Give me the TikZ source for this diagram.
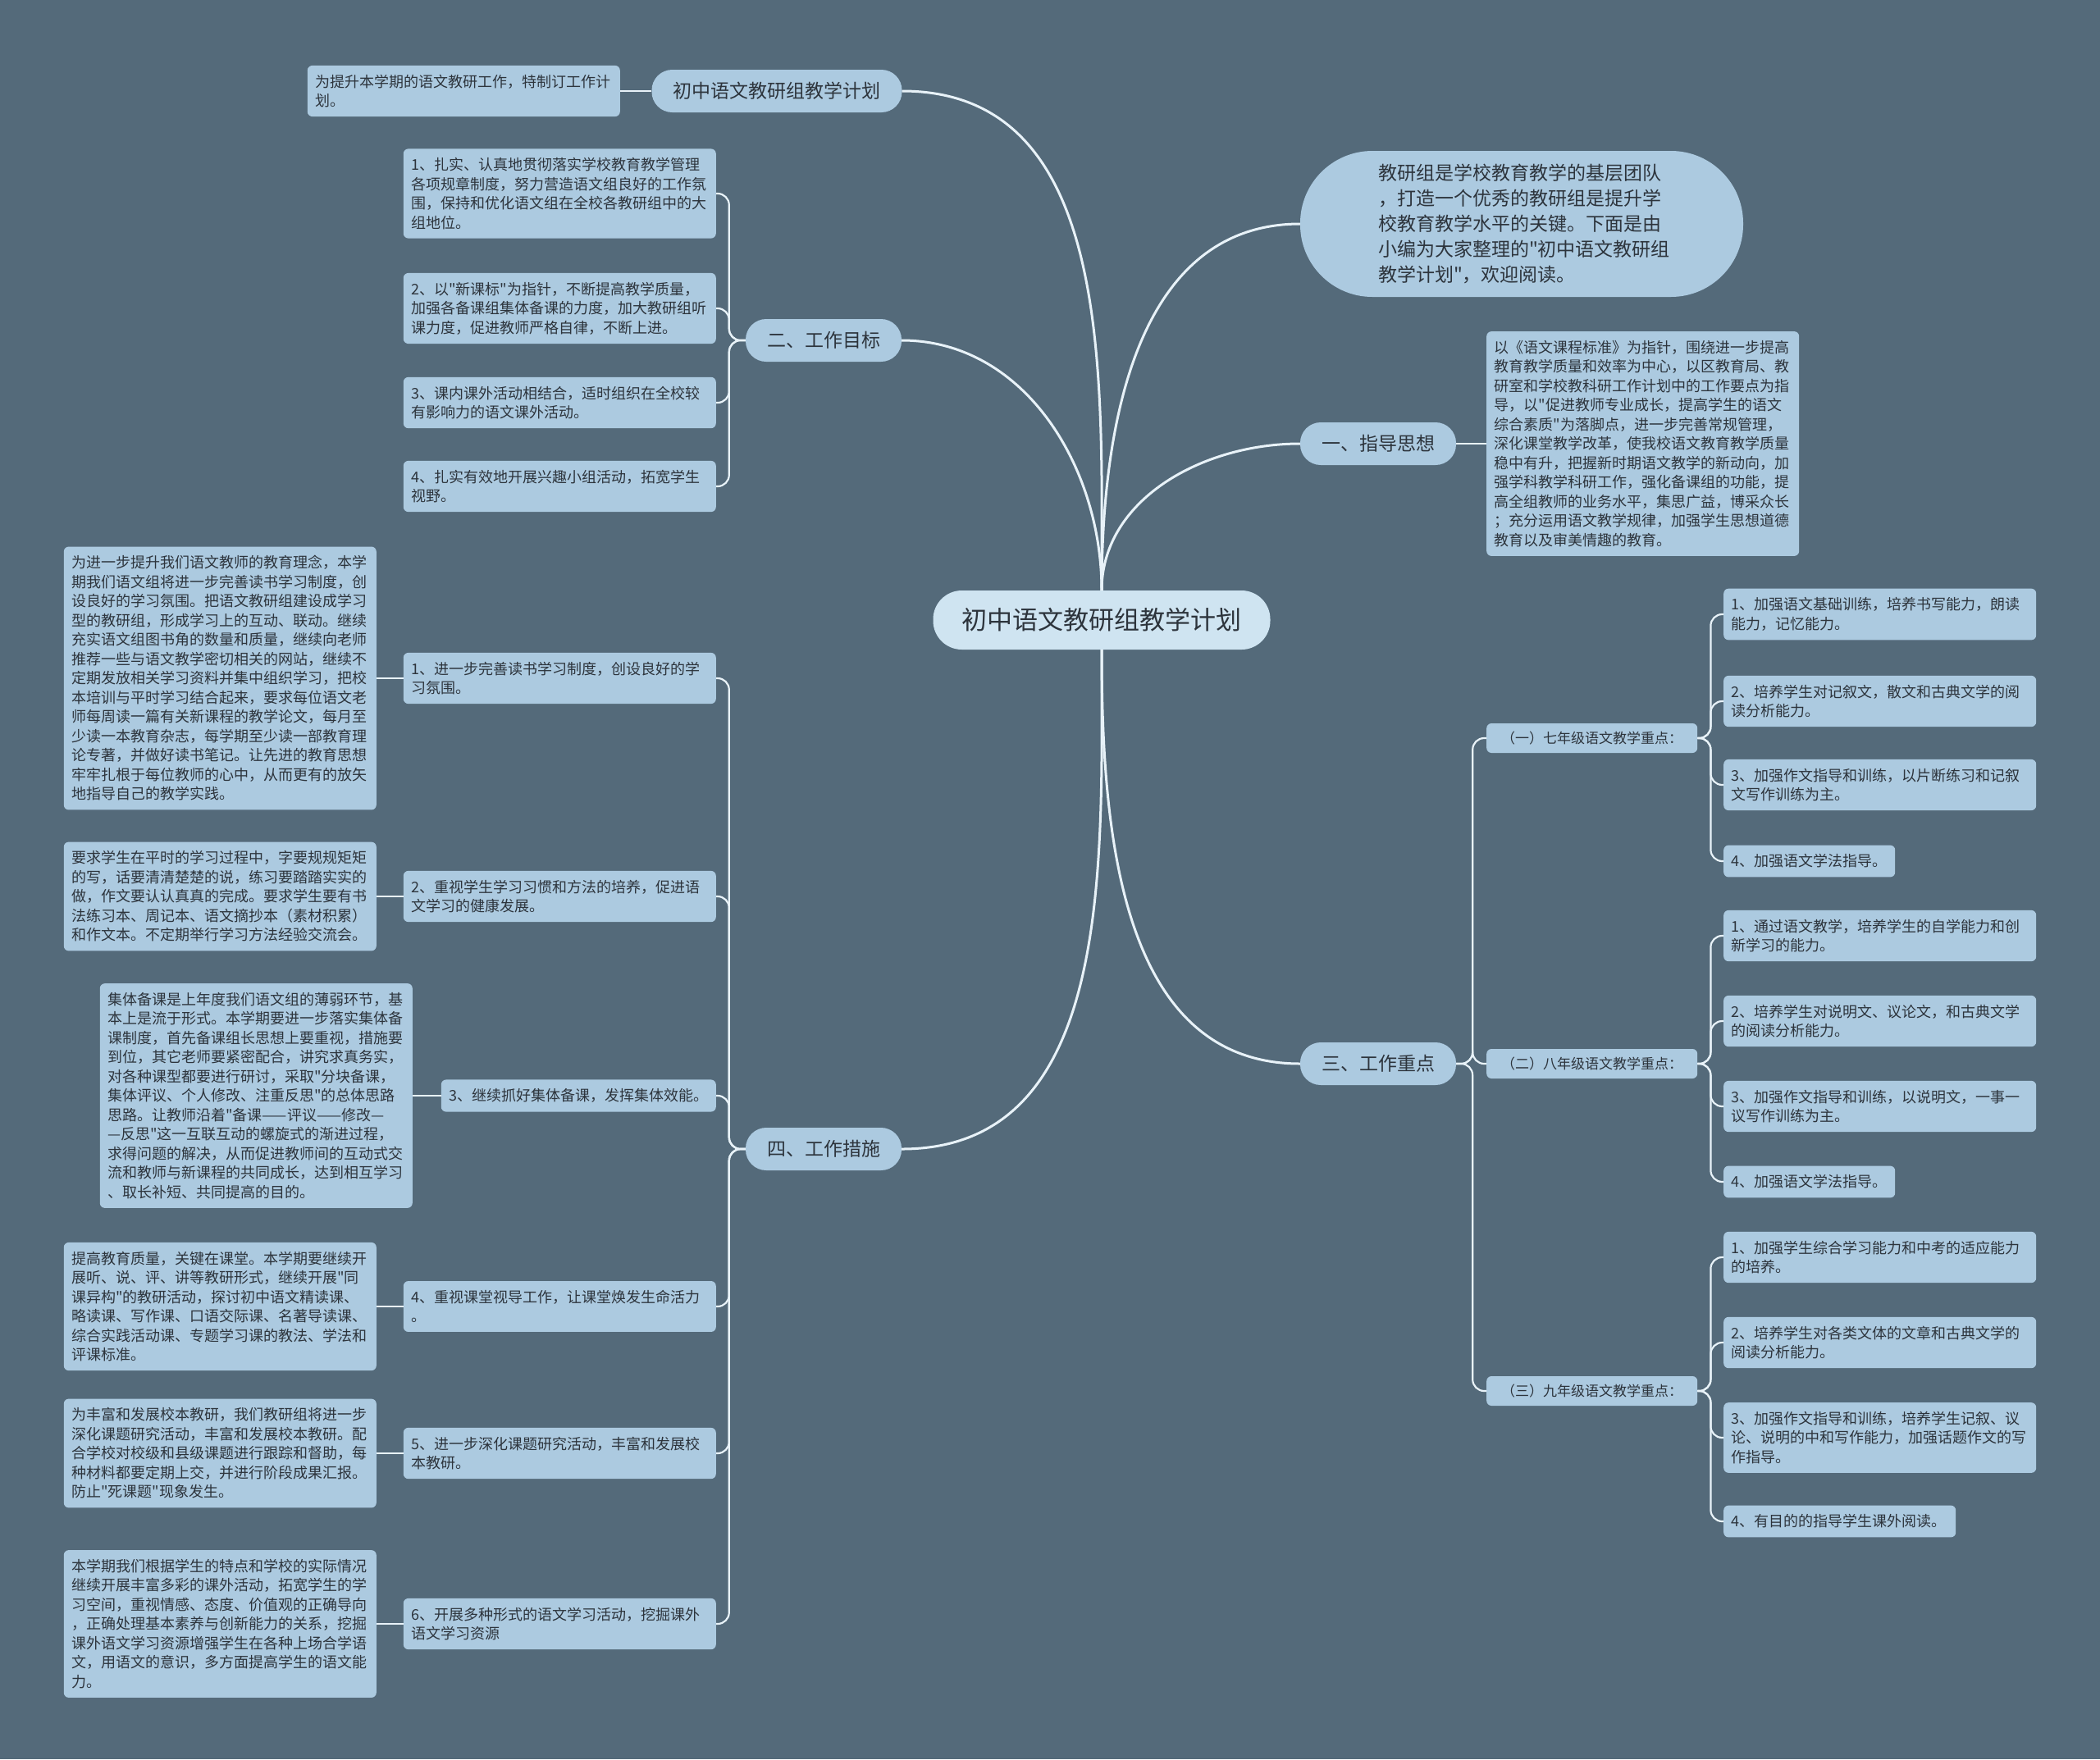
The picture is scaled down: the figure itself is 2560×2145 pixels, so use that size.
\documentclass[tikz,border=0pt]{standalone}
\usepackage{fontspec}
\setmainfont{Noto Sans CJK SC}[Ligatures=TeXOff]
\definecolor{bg}{RGB}{84,106,122}
\definecolor{nodefill}{RGB}{172,202,224}
\definecolor{cfill}{RGB}{207,228,241}
\definecolor{txt}{RGB}{45,52,60}
\definecolor{linec}{RGB}{232,242,248}
\begin{document}
\begin{tikzpicture}[x=1pt,y=-1pt,
 lfbox/.style={fill=nodefill, rounded corners=6pt, text=txt, font=\fontsize{18}{23.5}\selectfont, align=left, inner xsep=9.5pt, inner ysep=11pt, text width=362pt},
 lfw/.style={lfbox, text width=#1},
 subbox/.style={fill=nodefill, rounded corners=6pt, text=txt, font=\fontsize{17}{20}\selectfont, inner xsep=18pt, inner ysep=0pt, minimum height=36pt},
 lone/.style={fill=nodefill, rounded corners=25pt, text=txt, font=\fontsize{23}{28}\selectfont, inner xsep=26pt, inner ysep=0pt, minimum height=52pt},
 rootnode/.style={fill=cfill, rounded corners=35pt, text=txt, font=\fontsize{31}{36}\selectfont, inner xsep=35pt, inner ysep=0pt, minimum height=72pt},
 mainc/.style={draw=linec, line width=3pt},
 spine/.style={draw=linec, line width=2.2pt, rounded corners=14pt},
 straight/.style={draw=linec, line width=2.5pt}
]
\useasboundingbox (0,0) rectangle (2560,2145);
\fill[bg] (0,0) rectangle (2560,2145);

% root
\node[rootnode] (c) at (1343,756) {初中语文教研组教学计划};

% top-left branch
\node[lone] (t1) at (947,111) {初中语文教研组教学计划};
\node[lfbox, anchor=east] (t1l) at (756,111) {为提升本学期的语文教研工作，特制订工作计\\划。};

% intro bubble
\node[fill=nodefill, rounded corners=88pt, text=txt, font=\fontsize{23}{31}\selectfont, align=left, text width=350pt, inner xsep=95pt, inner ysep=15pt, minimum height=178pt] (intro) at (1855,273) {教研组是学校教育教学的基层团队\\，打造一个优秀的教研组是提升学\\校教育教学水平的关键。下面是由\\小编为大家整理的"初中语文教研组\\教学计划"，欢迎阅读。};

% 一
\node[lone] (b1) at (1680,541) {一、指导思想};
\node[lfbox, anchor=west] (b1l) at (1812,541) {以《语文课程标准》为指针，围绕进一步提高\\教育教学质量和效率为中心，以区教育局、教\\研室和学校教科研工作计划中的工作要点为指\\导，以"促进教师专业成长，提高学生的语文\\综合素质"为落脚点，进一步完善常规管理，\\深化课堂教学改革，使我校语文教育教学质量\\稳中有升，把握新时期语文教学的新动向，加\\强学科教学科研工作，强化备课组的功能，提\\高全组教师的业务水平，集思广益，博采众长\\；充分运用语文教学规律，加强学生思想道德\\教育以及审美情趣的教育。};

% 二
\node[lone] (b2) at (1004,415) {二、工作目标};
\node[lfbox, anchor=east] (b2a) at (873,236) {1、扎实、认真地贯彻落实学校教育教学管理\\各项规章制度，努力营造语文组良好的工作氛\\围，保持和优化语文组在全校各教研组中的大\\组地位。};
\node[lfbox, anchor=east] (b2b) at (873,376) {2、以"新课标"为指针，不断提高教学质量，\\加强各备课组集体备课的力度，加大教研组听\\课力度，促进教师严格自律，不断上进。};
\node[lfbox, anchor=east] (b2c) at (873,491) {3、课内课外活动相结合，适时组织在全校较\\有影响力的语文课外活动。};
\node[lfbox, anchor=east] (b2d) at (873,593) {4、扎实有效地开展兴趣小组活动，拓宽学生\\视野。};

% 三
\node[lone] (b3) at (1680,1297) {三、工作重点};
\node[subbox, anchor=west] (s1) at (1812,900) {（一）七年级语文教学重点：};
\node[subbox, anchor=west] (s2) at (1812,1297) {（二）八年级语文教学重点：};
\node[subbox, anchor=west] (s3) at (1812,1696) {（三）九年级语文教学重点：};

\node[lfbox, anchor=west] (s1a) at (2101,749) {1、加强语文基础训练，培养书写能力，朗读\\能力，记忆能力。};
\node[lfbox, anchor=west] (s1b) at (2101,855) {2、培养学生对记叙文，散文和古典文学的阅\\读分析能力。};
\node[lfbox, anchor=west] (s1c) at (2101,957) {3、加强作文指导和训练，以片断练习和记叙\\文写作训练为主。};
\node[lfw=190pt, anchor=west] (s1d) at (2101,1050) {4、加强语文学法指导。};

\node[lfbox, anchor=west] (s2a) at (2101,1141) {1、通过语文教学，培养学生的自学能力和创\\新学习的能力。};
\node[lfbox, anchor=west] (s2b) at (2101,1245) {2、培养学生对说明文、议论文，和古典文学\\的阅读分析能力。};
\node[lfbox, anchor=west] (s2c) at (2101,1349) {3、加强作文指导和训练，以说明文，一事一\\议写作训练为主。};
\node[lfw=190pt, anchor=west] (s2d) at (2101,1441) {4、加强语文学法指导。};

\node[lfbox, anchor=west] (s3a) at (2101,1533) {1、加强学生综合学习能力和中考的适应能力\\的培养。};
\node[lfbox, anchor=west] (s3b) at (2101,1637) {2、培养学生对各类文体的文章和古典文学的\\阅读分析能力。};
\node[lfbox, anchor=west] (s3c) at (2101,1753) {3、加强作文指导和训练，培养学生记叙、议\\论、说明的中和写作能力，加强话题作文的写\\作指导。};
\node[lfw=264pt, anchor=west] (s3d) at (2101,1855) {4、有目的的指导学生课外阅读。};

% 四
\node[lone] (b4) at (1004,1401) {四、工作措施};
\node[lfbox, anchor=east] (m1) at (873,827) {1、进一步完善读书学习制度，创设良好的学\\习氛围。};
\node[lfbox, anchor=east] (m2) at (873,1093) {2、重视学生学习习惯和方法的培养，促进语\\文学习的健康发展。};
\node[lfw=316pt, anchor=east] (m3) at (873,1336) {3、继续抓好集体备课，发挥集体效能。};
\node[lfbox, anchor=east] (m4) at (873,1593) {4、重视课堂视导工作，让课堂焕发生命活力\\。};
\node[lfbox, anchor=east] (m5) at (873,1772) {5、进一步深化课题研究活动，丰富和发展校\\本教研。};
\node[lfbox, anchor=east] (m6) at (873,1980) {6、开展多种形式的语文学习活动，挖掘课外\\语文学习资源};

\node[lfbox, anchor=east] (d1) at (459,827) {为进一步提升我们语文教师的教育理念，本学\\期我们语文组将进一步完善读书学习制度，创\\设良好的学习氛围。把语文教研组建设成学习\\型的教研组，形成学习上的互动、联动。继续\\充实语文组图书角的数量和质量，继续向老师\\推荐一些与语文教学密切相关的网站，继续不\\定期发放相关学习资料并集中组织学习，把校\\本培训与平时学习结合起来，要求每位语文老\\师每周读一篇有关新课程的教学论文，每月至\\少读一本教育杂志，每学期至少读一部教育理\\论专著，并做好读书笔记。让先进的教育思想\\牢牢扎根于每位教师的心中，从而更有的放矢\\地指导自己的教学实践。};
\node[lfbox, anchor=east] (d2) at (459,1093) {要求学生在平时的学习过程中，字要规规矩矩\\的写，话要清清楚楚的说，练习要踏踏实实的\\做，作文要认认真真的完成。要求学生要有书\\法练习本、周记本、语文摘抄本（素材积累）\\和作文本。不定期举行学习方法经验交流会。};
\node[lfbox, anchor=east] (d3) at (503,1336) {集体备课是上年度我们语文组的薄弱环节，基\\本上是流于形式。本学期要进一步落实集体备\\课制度，首先备课组长思想上要重视，措施要\\到位，其它老师要紧密配合，讲究求真务实，\\对各种课型都要进行研讨，采取"分块备课，\\集体评议、个人修改、注重反思"的总体思路\\思路。让教师沿着"备课——评议——修改—\\—反思"这一互联互动的螺旋式的渐进过程，\\求得问题的解决，从而促进教师间的互动式交\\流和教师与新课程的共同成长，达到相互学习\\、取长补短、共同提高的目的。};
\node[lfbox, anchor=east] (d4) at (459,1593) {提高教育质量，关键在课堂。本学期要继续开\\展听、说、评、讲等教研形式，继续开展"同\\课异构"的教研活动，探讨初中语文精读课、\\略读课、写作课、口语交际课、名著导读课、\\综合实践活动课、专题学习课的教法、学法和\\评课标准。};
\node[lfbox, anchor=east] (d5) at (459,1772) {为丰富和发展校本教研，我们教研组将进一步\\深化课题研究活动，丰富和发展校本教研。配\\合学校对校级和县级课题进行跟踪和督助，每\\种材料都要定期上交，并进行阶段成果汇报。\\防止"死课题"现象发生。};
\node[lfbox, anchor=east] (d6) at (459,1980) {本学期我们根据学生的特点和学校的实际情况\\继续开展丰富多彩的课外活动，拓宽学生的学\\习空间，重视情感、态度、价值观的正确导向\\，正确处理基本素养与创新能力的关系，挖掘\\课外语文学习资源增强学生在各种上场合学语\\文，用语文的意识，多方面提高学生的语文能\\力。};

% main connectors
\draw[mainc] (c.north) .. controls +(0,-260) and +(260,0) .. (t1.east);
\draw[mainc] (c.north) .. controls +(0,-200) and +(-200,0) .. (intro.west);
\draw[mainc] (c.north) .. controls +(0,-110) and +(-120,0) .. (b1.west);
\draw[mainc] (c.north) .. controls +(0,-150) and +(150,0) .. (b2.east);
\draw[mainc] (c.south) .. controls +(0,220) and +(-220,0) .. (b3.west);
\draw[mainc] (c.south) .. controls +(0,260) and +(260,0) .. (b4.east);

% straight links
\draw[straight] (t1.west) -- (t1l.east);
\draw[straight] (b1.east) -- (b1l.west);
\foreach \a/\b in {m1/d1,m2/d2,m3/d3,m4/d4,m5/d5,m6/d6}
  \draw[straight] (\a.west) -- (\b.east);

% spines
\foreach \k in {b2a,b2b,b2c,b2d}
  \draw[spine] (b2.west) -- ++(-20,0) |- (\k.east);
\foreach \k in {m1,m2,m3,m4,m5,m6}
  \draw[spine] (b4.west) -- ++(-20,0) |- (\k.east);
\foreach \k in {s1,s2,s3}
  \draw[spine] (b3.east) -- ++(20,0) |- (\k.west);
\foreach \k in {s1a,s1b,s1c,s1d}
  \draw[spine] (s1.east) -- ++(16,0) |- (\k.west);
\foreach \k in {s2a,s2b,s2c,s2d}
  \draw[spine] (s2.east) -- ++(16,0) |- (\k.west);
\foreach \k in {s3a,s3b,s3c,s3d}
  \draw[spine] (s3.east) -- ++(16,0) |- (\k.west);
\end{tikzpicture}
\end{document}
